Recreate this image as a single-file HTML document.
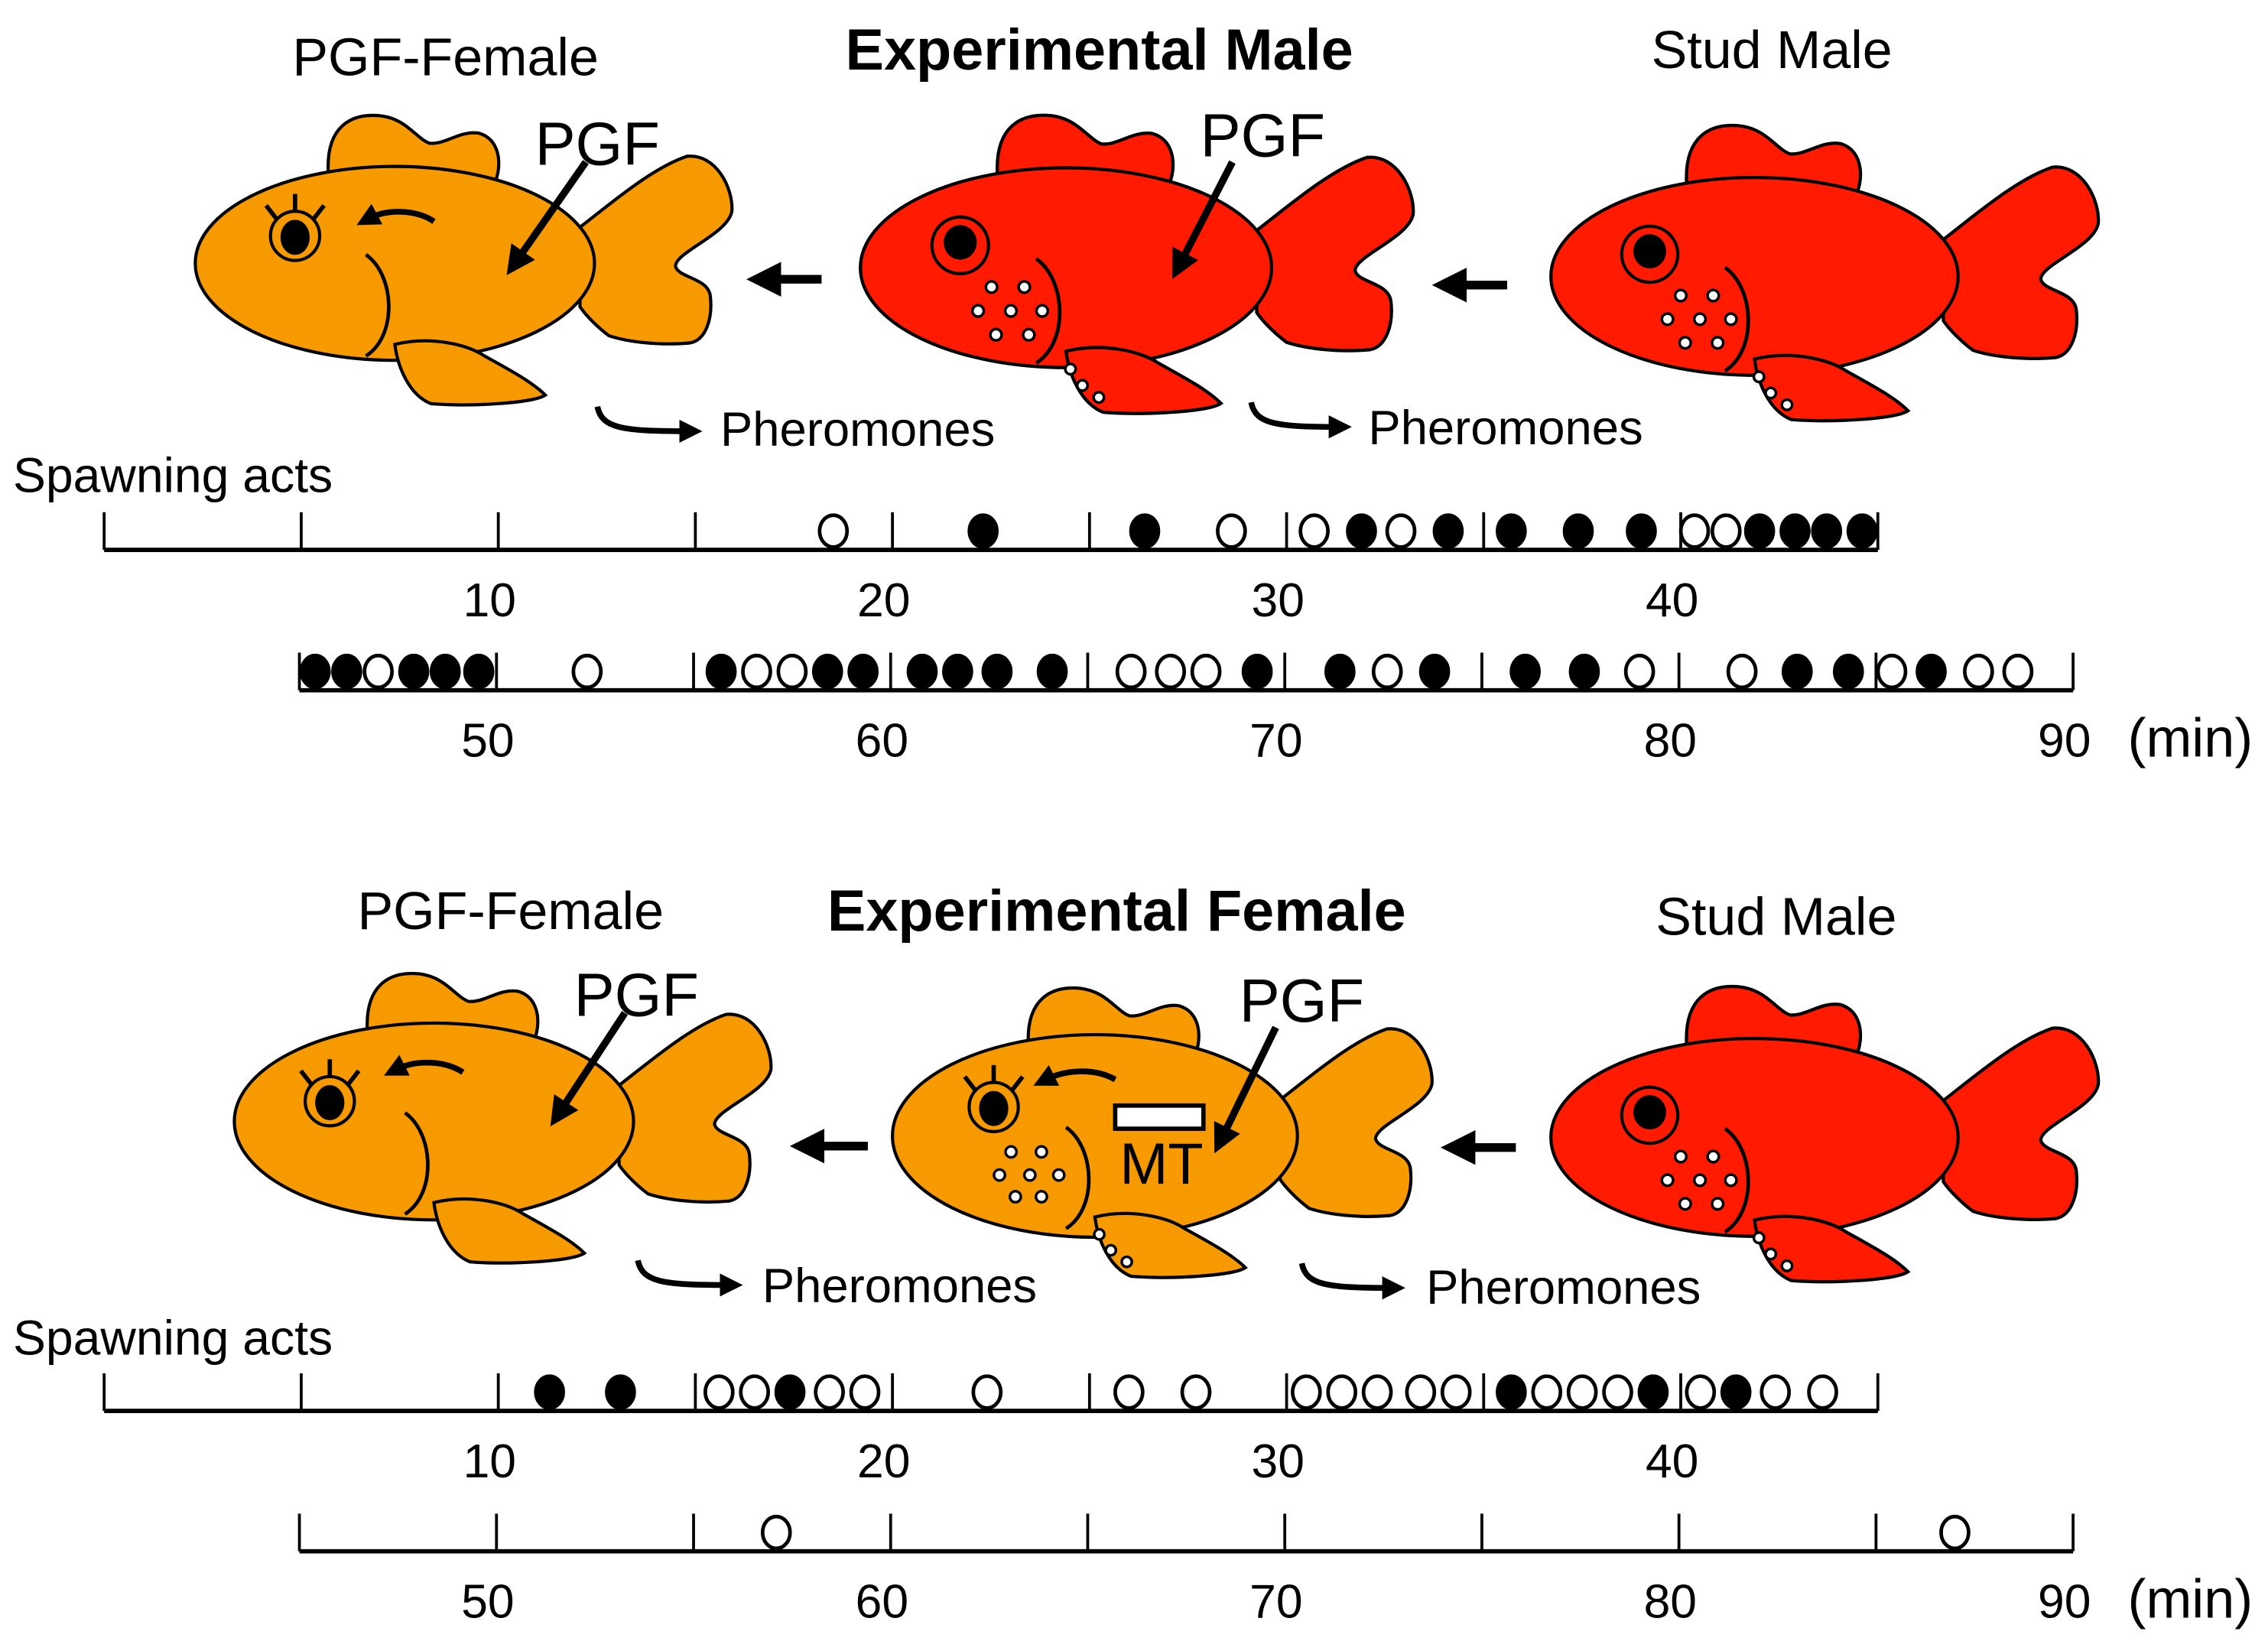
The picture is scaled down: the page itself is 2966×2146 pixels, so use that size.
<!DOCTYPE html>
<html><head><meta charset="utf-8"><style>
html,body{margin:0;padding:0;background:#fff}
svg{display:block}
text{font-family:"Liberation Sans",sans-serif}
</style></head><body>
<svg id="fig" width="2966" height="2146" viewBox="0 0 1568 1134" preserveAspectRatio="none" xmlns="http://www.w3.org/2000/svg">
<defs>
<path id="dorsal" d="M -46 -62 C -48 -95 -30 -104 -10 -102 C 8 -100 15 -86 24 -83 C 35 -82 45 -92 58 -90 C 72 -86 74 -70 70 -58 Z"/>
<path id="tail" d="M 128 -25 C 150 -42 178 -66 202 -74 C 222 -76 234 -52 233 -36 C 230 -20 194 -8 194 2 C 196 10 216 10 218 22 C 220 38 215 53 204 55 C 182 57 160 54 148 50 C 140 44 132 36 128 30 Z"/>
<path id="pelvic" d="M 0 56 C 25 50 50 56 62 64 C 80 74 95 82 104 91 C 95 97 50 99 25 97 C 10 91 2 72 0 56 Z"/>
<marker id="ah" viewBox="0 0 10 10" refX="5" refY="5" markerWidth="4" markerHeight="4" orient="auto"><path d="M0 0 L10 5 L0 10 Z" fill="#000"/></marker>
<marker id="ah2" viewBox="0 0 10 10" refX="4" refY="5" markerWidth="4" markerHeight="4" orient="auto"><path d="M0 0 L10 5 L0 10 Z" fill="#000"/></marker>
<g id="malebits" fill="#fff" stroke-width="1.8">
<circle cx="-50" cy="13" r="3.8"/><circle cx="-28" cy="13" r="3.8"/><circle cx="-59" cy="29" r="3.8"/><circle cx="-37" cy="29" r="3.8"/><circle cx="-16" cy="29" r="3.8"/><circle cx="-47" cy="45" r="3.8"/><circle cx="-25" cy="45" r="3.8"/>
</g>
<g id="tubercles" fill="#fff" stroke-width="1.8"><circle cx="3" cy="68" r="3.5"/><circle cx="11" cy="79" r="3.5"/><circle cx="22" cy="87" r="3.5"/></g>
</defs>

<!-- TOP PANEL -->
<text x="308" y="52" font-size="37" text-anchor="middle">PGF-Female</text>
<text x="760" y="48" font-size="40" font-weight="bold" text-anchor="middle">Experimental Male</text>
<text x="1225" y="47" font-size="37" text-anchor="middle">Stud Male</text>

<g transform="translate(273,182)" fill="#F79A00" stroke="#000" stroke-width="2.2">
<use href="#dorsal"/><use href="#tail"/>
<ellipse cx="0" cy="0" rx="138" ry="67"/>
<use href="#pelvic"/>
<path d="M -20 -6 C 0 8 2 50 -20 64" fill="none" stroke-width="2.5"/>
<circle cx="-69" cy="-19" r="17"/><ellipse cx="-69" cy="-18" rx="9" ry="11" fill="#000"/>
<path d="M -69 -36 L -69 -48 M -82 -31 L -89 -40 M -56 -31 L -49 -40" fill="none" stroke-width="3"/>
<path d="M 27 -29 C 15 -37 -5 -38 -18 -31" fill="none" stroke-width="4" marker-end="url(#ah2)"/>
</g>
<g transform="translate(737,185) scale(1.03)" fill="#FF1A00" stroke="#000" stroke-width="2.2">
<use href="#dorsal"/><use href="#tail"/>
<ellipse cx="0" cy="0" rx="138" ry="67"/>
<use href="#pelvic"/>
<path d="M -20 -6 C 0 8 2 50 -20 64" fill="none" stroke-width="2.5"/>
<circle cx="-71" cy="-15" r="19"/><ellipse cx="-71" cy="-17" rx="10" ry="10.5" fill="#000"/>
<use href="#malebits"/><use href="#tubercles"/>
</g>
<g transform="translate(1213,191) scale(1.02)" fill="#FF1A00" stroke="#000" stroke-width="2.2">
<use href="#dorsal"/><use href="#tail"/>
<ellipse cx="0" cy="0" rx="138" ry="67"/>
<use href="#pelvic"/>
<path d="M -20 -6 C 0 8 2 50 -20 64" fill="none" stroke-width="2.5"/>
<circle cx="-71" cy="-15" r="19"/><ellipse cx="-71" cy="-17" rx="10" ry="10.5" fill="#000"/>
<use href="#malebits"/><use href="#tubercles"/>
</g>

<text x="413" y="114" font-size="42" text-anchor="middle">PGF</text>
<line x1="405" y1="112" x2="356" y2="182" stroke="#000" stroke-width="5" marker-end="url(#ah)"/>
<text x="873" y="108" font-size="42" text-anchor="middle">PGF</text>
<line x1="852" y1="112" x2="815" y2="184" stroke="#000" stroke-width="5" marker-end="url(#ah)"/>

<line x1="568" y1="193" x2="528" y2="193" stroke="#000" stroke-width="6" marker-end="url(#ah)"/>
<line x1="1042" y1="197" x2="1002" y2="197" stroke="#000" stroke-width="6" marker-end="url(#ah)"/>

<path d="M 413 281 C 416 296 430 298 476 298" fill="none" stroke="#000" stroke-width="4" marker-end="url(#ah2)"/>
<text x="498" y="308" font-size="33.5">Pheromones</text>
<path d="M 865 278 C 868 293 882 295 925 295" fill="none" stroke="#000" stroke-width="4" marker-end="url(#ah2)"/>
<text x="946" y="307" font-size="33.5">Pheromones</text>

<text x="9" y="340" font-size="34">Spawning acts</text>

<!-- BOTTOM PANEL -->
<text x="353" y="642" font-size="37" text-anchor="middle">PGF-Female</text>
<text x="772" y="643" font-size="40" font-weight="bold" text-anchor="middle">Experimental Female</text>
<text x="1228" y="646" font-size="37" text-anchor="middle">Stud Male</text>

<g transform="translate(300,775)" fill="#F79A00" stroke="#000" stroke-width="2.2">
<use href="#dorsal"/><use href="#tail"/>
<ellipse cx="0" cy="0" rx="138" ry="68"/>
<use href="#pelvic"/>
<path d="M -20 -6 C 0 8 2 50 -20 64" fill="none" stroke-width="2.5"/>
<circle cx="-72" cy="-14" r="17"/><ellipse cx="-72" cy="-13" rx="9" ry="11" fill="#000"/>
<path d="M -72 -31 L -72 -43 M -85 -26 L -92 -35 M -59 -26 L -52 -35" fill="none" stroke-width="3"/>
<path d="M 20 -34 C 8 -42 -12 -43 -26 -36" fill="none" stroke-width="4" marker-end="url(#ah2)"/>
</g>
<g transform="translate(757,785)" fill="#F79A00" stroke="#000" stroke-width="2.2">
<use href="#dorsal"/><use href="#tail"/>
<ellipse cx="0" cy="0" rx="140" ry="70"/>
<use href="#pelvic"/>
<path d="M -20 -6 C 0 8 2 50 -20 64" fill="none" stroke-width="2.5"/>
<circle cx="-70" cy="-20" r="17"/><ellipse cx="-70" cy="-19" rx="9" ry="11" fill="#000"/>
<path d="M -70 -37 L -70 -49 M -83 -32 L -90 -41 M -57 -32 L -50 -41" fill="none" stroke-width="3"/>
<path d="M 14 -39 C 0 -47 -20 -46 -34 -39" fill="none" stroke-width="4" marker-end="url(#ah2)"/>
<g fill="#fff" stroke-width="1.8"><circle cx="-58" cy="11" r="3.8"/><circle cx="-37" cy="11" r="3.8"/><circle cx="-66" cy="27" r="3.8"/><circle cx="-45" cy="27" r="3.8"/><circle cx="-25" cy="27" r="3.8"/><circle cx="-55" cy="42" r="3.8"/><circle cx="-37" cy="42" r="3.8"/></g>
<use href="#tubercles"/>
<rect x="14" y="-21" width="61" height="16" fill="#fff" stroke-width="3"/>
</g>
<text x="803" y="818" font-size="40" text-anchor="middle">MT</text>
<g transform="translate(1213,786) scale(1.02)" fill="#FF1A00" stroke="#000" stroke-width="2.2">
<use href="#dorsal"/><use href="#tail"/>
<ellipse cx="0" cy="0" rx="138" ry="67"/>
<use href="#pelvic"/>
<path d="M -20 -6 C 0 8 2 50 -20 64" fill="none" stroke-width="2.5"/>
<circle cx="-71" cy="-15" r="19"/><ellipse cx="-71" cy="-17" rx="10" ry="10.5" fill="#000"/>
<use href="#malebits"/><use href="#tubercles"/>
</g>

<text x="440" y="702" font-size="42" text-anchor="middle">PGF</text>
<line x1="432" y1="700" x2="386" y2="770" stroke="#000" stroke-width="5" marker-end="url(#ah)"/>
<text x="900" y="706" font-size="42" text-anchor="middle">PGF</text>
<line x1="882" y1="710" x2="844" y2="788" stroke="#000" stroke-width="5" marker-end="url(#ah)"/>

<line x1="600" y1="792" x2="558" y2="792" stroke="#000" stroke-width="6" marker-end="url(#ah)"/>
<line x1="1048" y1="793" x2="1008" y2="793" stroke="#000" stroke-width="6" marker-end="url(#ah)"/>

<path d="M 441 871 C 444 886 458 888 504 888" fill="none" stroke="#000" stroke-width="4" marker-end="url(#ah2)"/>
<text x="527" y="900" font-size="33.5">Pheromones</text>
<path d="M 900 873 C 903 888 917 890 962 890" fill="none" stroke="#000" stroke-width="4" marker-end="url(#ah2)"/>
<text x="986" y="901" font-size="33.5">Pheromones</text>

<text x="9" y="936" font-size="34">Spawning acts</text>

<g id="timelines"></g>
</svg>
<script>
// Spawning act times (minutes); filled = 1, open = 0
const topTimes = [18.5,22.3,26.4,28.6,30.7,31.9,32.9,34.1,35.7,37.4,39.0,40.35,41.15,42.0,42.9,43.7,44.6,
  45.4,46.2,47.0,47.9,48.7,49.55,52.3,55.7,56.6,57.5,58.4,59.3,60.8,61.7,62.7,64.1,66.1,67.1,68.0,69.3,71.4,72.6,73.8,76.1,77.6,79.0,81.6,83.0,84.3,85.4,86.4,87.6,88.6];
const topFilled = [0,1,1,0,0,1,0,1,1,1,1,0,0,1,1,1,1,
  1,1,0,1,1,1,0,1,0,0,1,1,1,1,1,1,0,0,0,1,1,0,1,1,1,0,0,1,1,0,1,0,0];
const botTimes = [11.3,13.1,15.6,16.5,17.4,18.4,19.3,22.4,26.0,27.7,30.5,31.4,32.3,33.4,34.3,35.7,36.6,37.5,38.4,39.3,40.5,41.4,42.4,43.6,57.1,87.0];
const botFilled = [1,1,0,0,1,0,0,0,0,0,0,0,0,0,0,1,0,0,0,1,0,1,0,0,0,0];
const tickMinutes = [0,5,10,15,20,25,30,35,40,45,50,55,60,65,70,75,80,85,90];
const tickLabels = [10,20,30,40,50,60,70,80,90];

const NS = 'http://www.w3.org/2000/svg';
const root = document.getElementById('timelines');
const PXPM = 27.25;
function xOf(t){ return t < 45 ? 72 + t*PXPM : 207 + (t-45)*PXPM; }
function rowOf(t){ return t < 45 ? 0 : 1; }
function mk(tag, attrs){ const e=document.createElementNS(NS,tag); for(const k in attrs) e.setAttribute(k,attrs[k]); root.appendChild(e); return e; }

function drawPanel(axisY1, axisY2, times, filled, panel){
  const rows=[axisY1, axisY2];
  const l = mk('line',{x1:72,y1:axisY1,x2:72+45*PXPM,y2:axisY1,stroke:'#000','stroke-width':3});
  
  
  const l2 = mk('line',{x1:207,y1:axisY2,x2:xOf(90),y2:axisY2,stroke:'#000','stroke-width':3});
  
  
  tickMinutes.forEach(m=>{
    const r = m<45?0:1;
    const segs = (m===45)?[0,1]:[r];
    segs.forEach(rr=>{
      const x = rr===0 ? 72+m*PXPM : xOf(m);
      const t = mk('line',{x1:x,y1:rows[rr]-26,x2:x,y2:rows[rr],stroke:'#000','stroke-width':2});
      
      
    });
  });
  tickLabels.forEach(v=>{
    const r = v<45?0:1;
    const tx = mk('text',{x:xOf(v)-6,y:rows[r]+46,'font-size':33,'text-anchor':'middle'});
    tx.textContent = v;
    
    
  });
  const mn = mk('text',{x:1471,y:rows[1]+46,'font-size':38});
  mn.textContent='(min)';
  
  
  times.forEach((t,i)=>{
    const r = rowOf(t);
    const c = mk('ellipse',{cx:xOf(t),cy:rows[r]-13,rx:9.5,ry:11,fill:filled[i]?'#000':'#fff',stroke:'#000','stroke-width':2.5});
    
    
  });
}
drawPanel(380, 477, topTimes, topFilled, 'male');
drawPanel(975, 1072, botTimes, botFilled, 'female');
</script>
</body></html>
